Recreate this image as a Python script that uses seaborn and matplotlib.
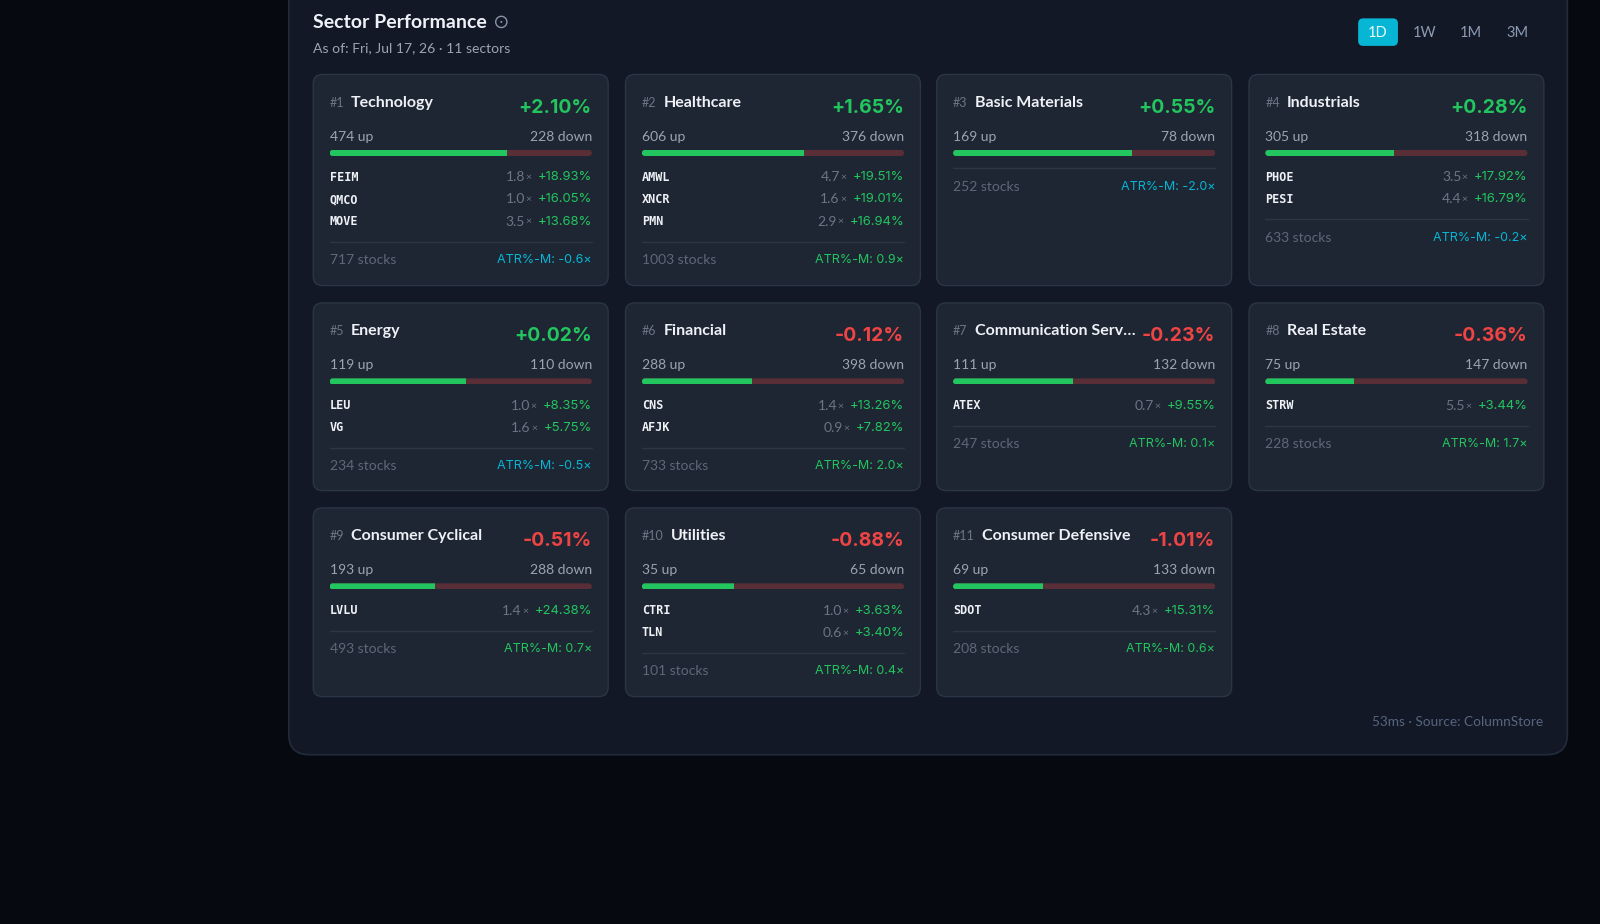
import numpy as np
import pandas as pd
import matplotlib
matplotlib.use("Agg")
import matplotlib.pyplot as plt
from matplotlib.patches import FancyBboxPatch, Circle
import seaborn as sns

# ---------------- data ----------------
ranks = list(range(1, 12))
sectors = ["Technology", "Healthcare", "Basic Materials", "Industrials", "Energy",
           "Financial", "Communication Serv…", "Real Estate", "Consumer Cyclical",
           "Utilities", "Consumer Defensive"]
sector_pct = [2.10, 1.65, 0.55, 0.28, 0.02, -0.12, -0.23, -0.36, -0.51, -0.88, -1.01]
up_counts = [474, 606, 169, 305, 119, 288, 111, 75, 193, 35, 69]
down_counts = [228, 376, 78, 318, 110, 398, 132, 147, 288, 65, 133]
stock_counts = [717, 1003, 252, 633, 234, 733, 247, 228, 493, 101, 208]
atr_m = [-0.6, 0.9, -2.0, -0.2, -0.5, 2.0, 0.1, 1.7, 0.7, 0.4, 0.6]
leader_tickers = [["FEIM", "QMCO", "MOVE"], ["AMWL", "XNCR", "PMN"], [], ["PHOE", "PESI"],
                  ["LEU", "VG"], ["CNS", "AFJK"], ["ATEX"], ["STRW"], ["LVLU"],
                  ["CTRI", "TLN"], ["SDOT"]]
leader_rvol = [[1.8, 1.0, 3.5], [4.7, 1.6, 2.9], [], [3.5, 4.4], [1.0, 1.6], [1.4, 0.9],
               [0.7], [5.5], [1.4], [1.0, 0.6], [4.3]]
leader_chg = [[18.93, 16.05, 13.68], [19.51, 19.01, 16.94], [], [17.92, 16.79], [8.35, 5.75],
              [13.26, 7.82], [9.55], [3.44], [24.38], [3.63, 3.40], [15.31]]
periods = ["1D", "1W", "1M", "3M"]
title = "Sector Performance"
subtitle = "As of: Fri, Jul 17, 26 · 11 sectors"
footer = "53ms · Source: ColumnStore"

# ---------------- style ----------------
BG = "#060910"
PANEL = "#121826"
PANEL_EDGE = "#222b3b"
CARD = "#1e2633"
CARD_EDGE = "#2b3545"
GREEN = "#22c55e"
RED = "#ef4444"
BAR_RED = "#5a2e37"
CYAN = "#06b6d4"
WHITE = "#eef1f6"
GRAY = "#9ca3b1"
DIM = "#6b7585"
DIMMER = "#5d6878"
SEP = "#2c3646"

sns.set_theme(style="dark")
plt.rcParams["font.family"] = ["Lato", "DejaVu Sans"]
MONO = ["DejaVu Sans Mono"]
NUM = ["Inter", "DejaVu Sans"]

W, H = 1600, 924
UW, UH = 1568, 906          # layout units
KX = UW / W
fig = plt.figure(figsize=(16, 9.24), dpi=100)
fig.patch.set_facecolor(BG)
ax = fig.add_axes([0, 0, 1, 1])
ax.set_xlim(0, UW)
ax.set_ylim(UH, 0)
ax.axis("off")
ax.set_facecolor(BG)
renderer = fig.canvas.get_renderer()


def rbox(x, y, w, h, r, fc, ec, lw=1.0, z=1):
    p = FancyBboxPatch((x, y), w, h, boxstyle=f"round,pad=0,rounding_size={r}",
                       fc=fc, ec=ec, lw=lw, zorder=z, transform=ax.transData)
    ax.add_patch(p)
    return p


def left_u(t):
    return t.get_window_extent(renderer).x0 * KX


def right_u(t):
    return t.get_window_extent(renderer).x1 * KX


# panel
rbox(283, -30, 1253, 770, 20, PANEL, PANEL_EDGE, lw=1.2, z=0.5)

# header
tt = ax.text(307, 22, title, color=WHITE, fontsize=14, fontweight="bold", va="center",
             ha="left")
ix = right_u(tt) + 14
ax.add_patch(Circle((ix, 21.5), 5.5, fc="none", ec="#8a94a6", lw=1.0, zorder=3))
ax.add_patch(Circle((ix, 21.5), 1.0, fc="#8a94a6", ec="none", zorder=3))
ax.text(307, 47, subtitle, color=GRAY, fontsize=10.1, va="center", ha="left")

# period toggle
rbox(1331, 18, 39, 27, 5, CYAN, "none", z=2)
for lab, cx in zip(periods, [1350.5, 1396, 1441, 1487]):
    ax.text(cx, 32, lab, color=("#e9fbff" if lab == "1D" else "#8d9bb3"), fontsize=10.5,
            ha="center", va="center", zorder=3)

ax.text(1512, 707.5, footer, color="#56657e", fontsize=9.8, ha="right", va="center")

cols_x = [307, 613, 918, 1224]
card_w = 289
row_top = [73, 297, 498]
row_h = [207, 184, 185]

for i in range(len(sectors)):
    r, c = divmod(i, 4)
    x0 = cols_x[c]
    top = row_top[r]
    L = x0 + 16
    R = x0 + 273
    rbox(x0, top, card_w, row_h[r], 9, CARD, CARD_EDGE, lw=1.0, z=1)

    # rank and name
    tr = ax.text(L, top + 28, f"#{ranks[i]}", color=DIM, fontsize=9, ha="left", va="center",
                 zorder=3)
    ax.text(right_u(tr) + 7, top + 28, sectors[i], color=WHITE, fontsize=11.5,
            fontweight="bold", ha="left", va="center", zorder=3)

    pv = sector_pct[i]
    ax.text(R, top + 32.5, f"{pv:+.2f}%", color=GREEN if pv >= 0 else RED, fontsize=14,
            fontweight="bold", family=NUM, ha="right", va="center", zorder=3)

    ax.text(L, top + 61, f"{up_counts[i]} up", color=GRAY, fontsize=10, ha="left",
            va="center", zorder=3)
    ax.text(R, top + 61, f"{down_counts[i]} down", color=GRAY, fontsize=10, ha="right",
            va="center", zorder=3)

    # breadth bar via seaborn
    ybar = top + 77
    bh = 6
    bax = fig.add_axes([L / UW, 1 - (ybar + bh / 2) / UH, (R - L) / UW, bh / UH])
    total = up_counts[i] + down_counts[i]
    df_tot = pd.DataFrame({"v": [total], "k": ["b"]})
    df_up = pd.DataFrame({"v": [up_counts[i]], "k": ["b"]})
    sns.barplot(data=df_tot, x="v", y="k", orient="h", color=BAR_RED, saturation=1,
                width=1, linewidth=0, ax=bax)
    sns.barplot(data=df_up, x="v", y="k", orient="h", color=GREEN, saturation=1,
                width=1, linewidth=0, ax=bax)
    bax.set_xlim(0, total)
    bax.set_ylim(0.5, -0.5)
    bax.axis("off")
    bax.patch.set_alpha(0)
    clip = FancyBboxPatch((L, ybar - bh / 2), R - L, bh,
                          boxstyle="round,pad=0,rounding_size=3", transform=ax.transData,
                          fc="none", ec="none")
    for p in bax.patches:
        p.set_clip_path(clip)

    # leaders
    n = len(leader_tickers[i])
    for j in range(n):
        yy = top + 101 + j * 21.6
        ax.text(L, yy, leader_tickers[i][j], color=WHITE, fontsize=8.5, fontweight="bold",
                family=MONO, ha="left", va="center", zorder=3)
        tp = ax.text(R, yy, f"{leader_chg[i][j]:+.2f}%", color=GREEN, fontsize=9.4,
                     family=NUM, ha="right", va="center", zorder=3)
        tx = ax.text(left_u(tp) - 6, yy + 0.5, "×", color=DIM, fontsize=7.5, ha="right",
                     va="center", zorder=3)
        ax.text(left_u(tx) - 0.5, yy, f"{leader_rvol[i][j]:.1f}", color=DIM, fontsize=10,
                ha="right", va="center", zorder=3)

    sep = top + 92 if n == 0 else top + 99.5 + n * 21.6 - 0.5
    ax.plot([L, R], [sep, sep], color=SEP, lw=1, zorder=2)
    fy = sep + 18
    ax.text(L, fy, f"{stock_counts[i]} stocks", color=DIMMER, fontsize=10, ha="left",
            va="center", zorder=3)
    av = atr_m[i]
    ax.text(R, fy, f"ATR%-M: {av:.1f}×", color=CYAN if av < 0 else GREEN, fontsize=9,
            family=NUM, ha="right", va="center", zorder=3)

fig.savefig("out.png", dpi=100, facecolor=BG)
